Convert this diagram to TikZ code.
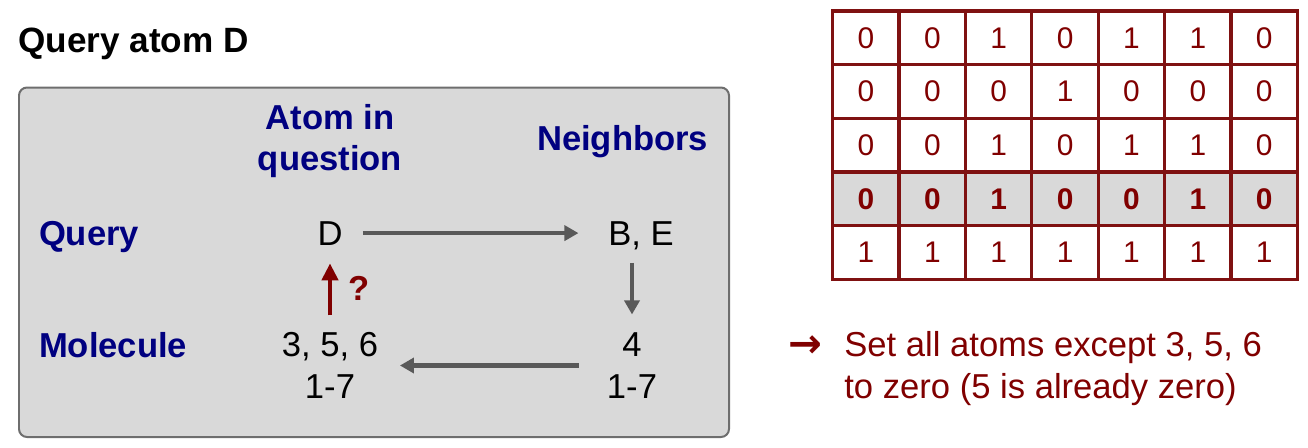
\documentclass[tikz,border=0pt]{standalone}
\usepackage{fontspec}
\setmainfont{Liberation Sans}
\newfontfamily\symfont{DejaVu Sans}
\usepackage{xcolor}
\usetikzlibrary{arrows.meta,positioning}

\definecolor{navy}{HTML}{000080}
\definecolor{maroon}{HTML}{800000}
\definecolor{gridred}{HTML}{7F1111}
\definecolor{arrowgray}{HTML}{595959}
\definecolor{boxgray}{HTML}{D9D9D9}
\definecolor{edgegray}{HTML}{6E6E6E}

\tikzset{
  txt/.style={inner sep=0pt, font=\fontsize{19.7}{23.7}\selectfont},
  head/.style={txt, font=\fontsize{19.7}{23.7}\selectfont\bfseries, text=navy, align=center},
  flow/.style={draw=arrowgray, line width=0.085cm, -{Triangle[length=0.28cm,width=0.3cm]}},
  ask/.style={draw=maroon, line width=0.085cm, -{Triangle[length=0.34cm,width=0.32cm]}},
  cell/.style={inner sep=0pt, text=maroon, font=\fontsize{17}{20}\selectfont}
}

\begin{document}
\begin{tikzpicture}[x=0.02cm,y=-0.02cm]
\useasboundingbox (0,0) rectangle (1308,447);

% Title
\node[txt, anchor=base west, font=\fontsize{20}{24}\selectfont\bfseries] (title) at (18,52.7) {Query atom D};

% Grey panel (pixel units, y downwards)
\draw[fill=boxgray, draw=edgegray, line width=0.04cm, rounded corners=0.16cm] (19,87.5) rectangle (729,437);

% Row and column headers
\node[head] (atom) at (330,141.2) {Atom in\\question};
\node[head, anchor=base] (nbr) at (622.6,150) {Neighbors};
\node[head, anchor=base west] (qry) at (38.7,245) {Query};
\node[head, anchor=base west] (mol) at (38.7,357) {Molecule};

% Atoms
\node[txt, anchor=base] (D) at (330,245) {D};
\node[txt, anchor=base] (BE) at (641,245) {B, E};
\node[txt, align=center] (three) at (330,365.5) {3, 5, 6\\1-7};
\node[txt, align=center] (four) at (632,365.5) {4\\1-7};

% Cycle of arrows
\draw[flow, shorten <=0.4cm, shorten >=0.59cm] (D.east) -- (D.east -| BE.west);
\draw[flow, shorten <=0.26cm, shorten >=0.36cm] (BE.south -| four.north) -- (four.north);
\draw[flow, shorten <=0.56cm, shorten >=0.43cm] (four.west) -- (four.west -| three.east);
\draw[ask, shorten <=0.34cm, shorten >=0.36cm] (three.north) -- (D.south);
\node[txt, anchor=base, text=maroon, font=\fontsize{19.7}{23.7}\selectfont\bfseries] (q) at (359,300) {?};

% Bit matrix, 5 rows x 7 columns (row 4 highlighted)
\fill[boxgray] (832.7,172) rectangle (1297.3,226);
\foreach \bits [count=\r from 0] in {{0,0,1,0,1,1,0},{0,0,0,1,0,0,0},{0,0,1,0,1,1,0},{0,0,1,0,0,1,0},{1,1,1,1,1,1,1}} {
  \foreach \b [count=\c from 0] in \bits {
    \node[cell] (c\r\c) at (866+\c*66.37,37.85+\r*53.7) {\ifnum\r=3 \bfseries\fi\b};
  }
}
\foreach \r in {1,...,4} {
  \draw[gridred, line width=0.066cm] (832.7,11+\r*53.7) -- (1297.3,11+\r*53.7);
}
\foreach \c in {1,...,6} {
  \draw[gridred, line width=0.066cm] (832.7+\c*66.37,11) -- (832.7+\c*66.37,279.5);
}
\draw[gridred, line width=0.066cm] (832.7,11) rectangle (1297.3,279.5);

% Note
\node[txt, text=maroon, font=\fontsize{23}{26}\selectfont\symfont\bfseries] (arr) at (805,347) {→};
\node[txt, anchor=west, align=left, text=maroon] (note) at (844,368.8) {Set all atoms except 3, 5, 6\\to zero (5 is already zero)};
\end{tikzpicture}
\end{document}
